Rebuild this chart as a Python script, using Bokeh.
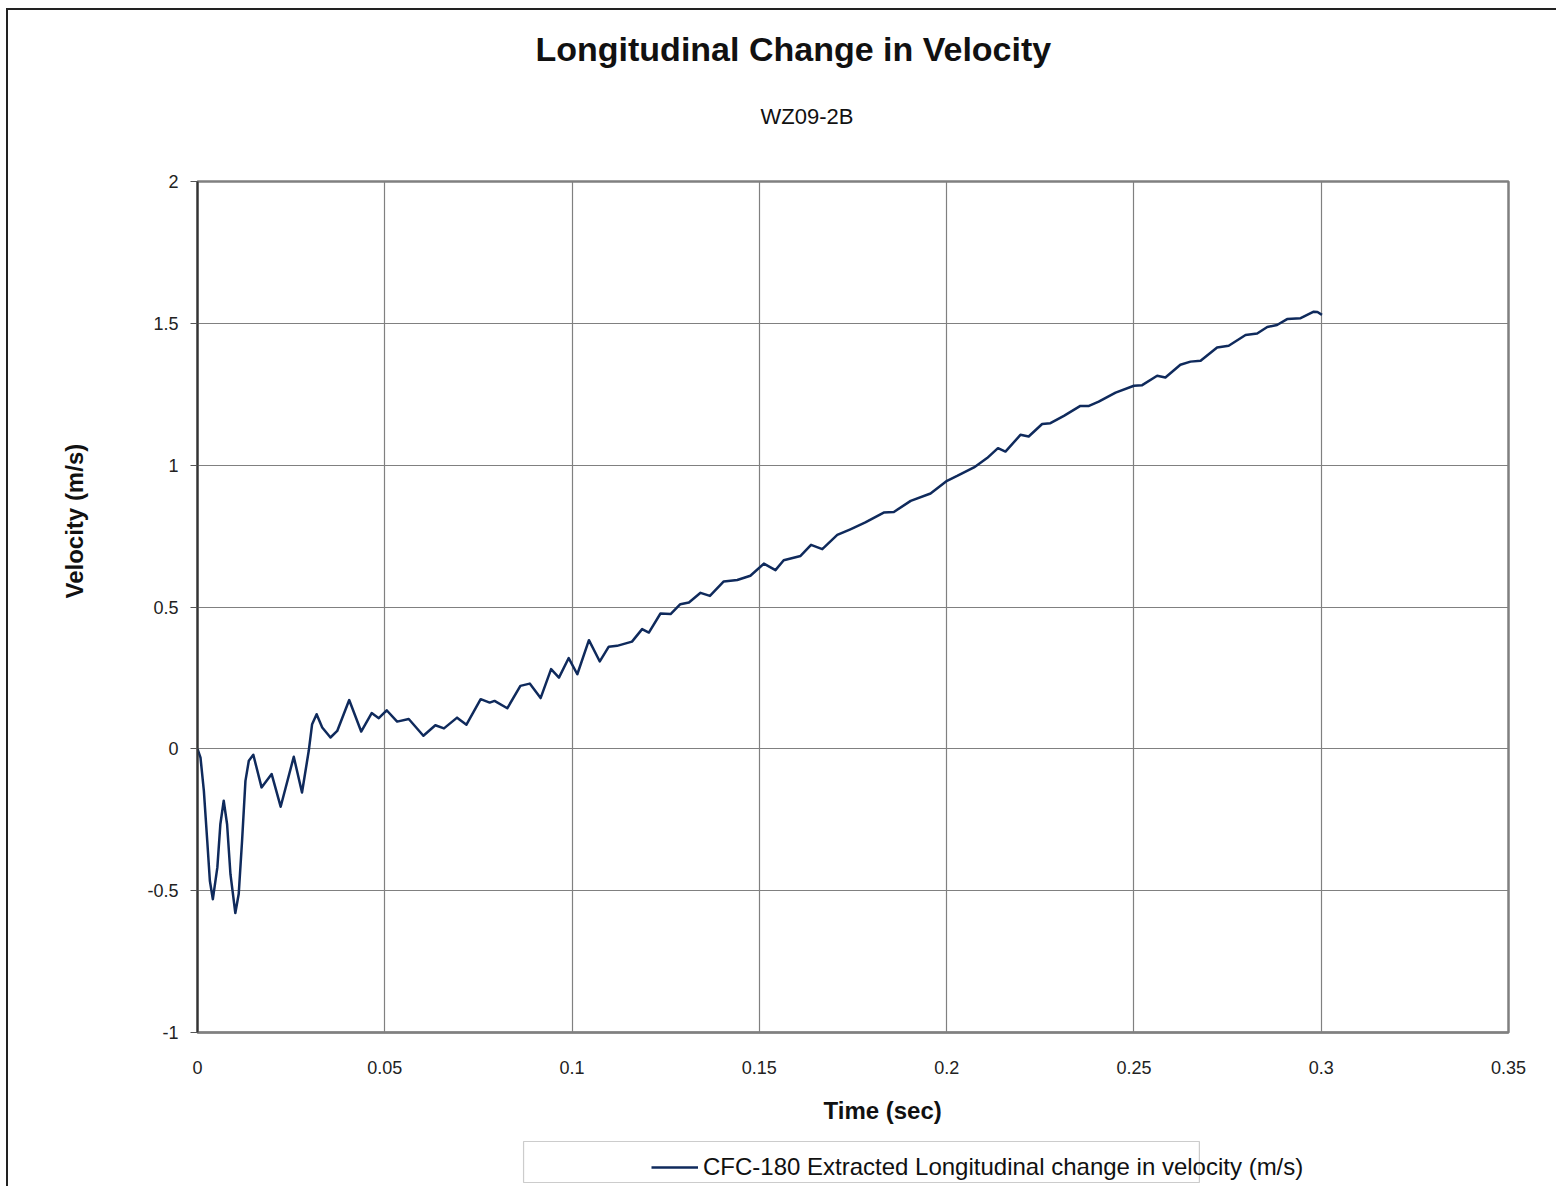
from bokeh.plotting import figure
from bokeh.layouts import column
from bokeh.models import (Range1d, Title, Legend, LegendItem, Label, BoxAnnotation,
                          FixedTicker, CustomJSTickFormatter)
from bokeh.embed import file_html
from bokeh.resources import INLINE

title_text = "Longitudinal Change in Velocity"
subtitle_text = "WZ09-2B"
x_label = "Time (sec)"
y_label = "Velocity (m/s)"
series_name = "CFC-180 Extracted Longitudinal change in velocity (m/s)"

x_ticks = [0, 0.05, 0.1, 0.15, 0.2, 0.25, 0.3, 0.35]
y_ticks = [-1, -0.5, 0, 0.5, 1, 1.5, 2]

time_s = [0.0, 0.0008, 0.0017, 0.0026, 0.0033, 0.0041, 0.0053, 0.0061, 0.0070, 0.0079,
          0.0088, 0.0101, 0.0110, 0.0119, 0.0128, 0.0137, 0.0149, 0.0171, 0.0198,
          0.0222, 0.0257, 0.0279, 0.0297, 0.0306, 0.0318, 0.0333, 0.0355, 0.0373,
          0.0405, 0.0437, 0.0465, 0.0484, 0.0505, 0.0533, 0.0564, 0.0603, 0.0635,
          0.0658, 0.0693, 0.0718, 0.0756, 0.0780, 0.0793, 0.0827, 0.0862, 0.0887,
          0.0916, 0.0944, 0.0965, 0.0991, 0.1014, 0.1045, 0.1074, 0.1098, 0.1120,
          0.1160, 0.1187, 0.1205, 0.1236, 0.1263, 0.1289, 0.1312, 0.1343, 0.1368,
          0.1405, 0.1441, 0.1476, 0.1512, 0.1543, 0.1565, 0.1610, 0.1638, 0.1668,
          0.1708, 0.1743, 0.1783, 0.1832, 0.1859, 0.1904, 0.1957, 0.2001, 0.2028,
          0.2073, 0.2108, 0.2137, 0.2157, 0.2197, 0.2219, 0.2255, 0.2277, 0.2313,
          0.2357, 0.2380, 0.2406, 0.2451, 0.2500, 0.2522, 0.2562, 0.2584, 0.2624,
          0.2651, 0.2678, 0.2722, 0.2753, 0.2798, 0.2829, 0.2856, 0.2882, 0.2909,
          0.2945, 0.2980, 0.2990, 0.3002]
velocity = [0.0, -0.031, -0.148, -0.324, -0.465, -0.530, -0.418, -0.266, -0.183, -0.266,
            -0.442, -0.579, -0.512, -0.324, -0.113, -0.042, -0.021, -0.136, -0.089,
            -0.204, -0.028, -0.154, -0.007, 0.087, 0.122, 0.075, 0.040, 0.063,
            0.172, 0.061, 0.126, 0.108, 0.136, 0.096, 0.105, 0.046, 0.083,
            0.072, 0.110, 0.085, 0.175, 0.163, 0.169, 0.143, 0.222, 0.230,
            0.179, 0.281, 0.251, 0.320, 0.263, 0.383, 0.308, 0.360, 0.363,
            0.378, 0.422, 0.410, 0.477, 0.475, 0.510, 0.516, 0.550, 0.539,
            0.590, 0.595, 0.610, 0.653, 0.630, 0.665, 0.680, 0.719, 0.704,
            0.754, 0.774, 0.798, 0.833, 0.835, 0.874, 0.900, 0.945, 0.962,
            0.992, 1.025, 1.060, 1.048, 1.107, 1.101, 1.145, 1.148, 1.174,
            1.209, 1.209, 1.224, 1.256, 1.280, 1.282, 1.315, 1.309, 1.354,
            1.365, 1.368, 1.415, 1.421, 1.459, 1.464, 1.487, 1.494, 1.515,
            1.518, 1.541, 1.540, 1.530]

FONT = "Liberation Sans"
GRID = "#808080"
LINE = "#0f2a5c"

# ---------------- main chart ----------------
p = figure(width=1548, height=1082, output_backend="svg", toolbar_location=None,
           x_range=Range1d(0, 0.35), y_range=Range1d(-1, 2),
           min_border_left=189, min_border_right=48, min_border_top=171,
           min_border_bottom=60)
p.frame_width = 1311
p.frame_height = 851

p.outline_line_color = GRID
p.outline_line_width = 2.5

r = p.line(time_s, velocity, line_color=LINE, line_width=2.5, line_join="round")

p.xaxis.ticker = FixedTicker(ticks=x_ticks)
p.yaxis.ticker = FixedTicker(ticks=y_ticks)
fmt = CustomJSTickFormatter(code="return String(Math.round(tick*1000)/1000);")
p.xaxis.formatter = fmt
p.yaxis.formatter = fmt
for ax in (p.xaxis[0], p.yaxis[0]):
    ax.major_label_text_font = FONT
    ax.major_label_text_font_size = "18px"
    ax.major_label_text_color = "#222222"
    ax.minor_tick_line_color = None
p.xaxis.axis_line_color = GRID
p.xaxis.axis_line_width = 2
p.xaxis.major_tick_line_color = None
p.xaxis.major_label_standoff = 22
p.yaxis.axis_line_color = "#333333"
p.yaxis.axis_line_width = 2
p.yaxis.major_tick_line_color = "#555555"
p.yaxis.major_tick_out = 7
p.yaxis.major_tick_in = 0
p.yaxis.major_label_standoff = 12

p.xgrid.grid_line_color = GRID
p.ygrid.grid_line_color = GRID
p.xgrid.grid_line_width = 1.2
p.ygrid.grid_line_width = 1.2

def spacer(gap):
    # an invisible white dot whose standoff reserves blank space in a side panel
    return Title(text=".", text_font_size="2px", standoff=gap, text_color="white")

p.add_layout(spacer(33), "above")
p.add_layout(Title(text=subtitle_text, align="left", offset=563,
                   text_font=FONT, text_font_style="normal", text_font_size="22px",
                   text_color="#111111", standoff=34), "above")
p.add_layout(Title(text=title_text, align="left", offset=338,
                   text_font=FONT, text_font_style="bold", text_font_size="34px",
                   text_color="#111111", standoff=34), "above")

p.add_layout(spacer(52), "left")
p.add_layout(Title(text=y_label, align="left", offset=434,
                   text_font=FONT, text_font_style="bold", text_font_size="24px",
                   text_color="#111111", standoff=4), "left")

# ---------------- strip below: x-axis title and legend ----------------
STRIP_W, STRIP_H = 1548, 94
q = figure(width=STRIP_W, height=STRIP_H, output_backend="svg", toolbar_location=None,
           x_range=Range1d(0, STRIP_W), y_range=Range1d(0, STRIP_H),
           x_axis_location=None, y_axis_location=None, min_border=0)
q.outline_line_color = None
q.grid.visible = False

r2 = q.line(time_s, velocity, line_color=LINE, line_width=2.5)
r2.visible = False

q.add_layout(Label(x=809, y=76, text=x_label, text_font=FONT, text_font_style="bold",
                   text_font_size="24px", text_color="#111111",
                   text_align="center", text_baseline="middle"))
q.add_layout(BoxAnnotation(left=385, right=1183, bottom=4, top=45,
                           fill_color="white", fill_alpha=1.0,
                           line_color="#555555", line_width=1.2, level="underlay"))
legend = Legend(items=[LegendItem(label=series_name, renderers=[r2])],
                location=(454, 5), border_line_color=None, background_fill_alpha=0,
                inactive_fill_alpha=0, label_text_font=FONT,
                label_text_font_size="24px", label_text_color="#111111",
                glyph_width=47, label_standoff=5, padding=6, margin=0)
q.add_layout(legend, "center")

layout = column(p, q, spacing=0)
layout.styles = {"border-left": "2px solid #222", "border-top": "2px solid #222",
                 "margin-left": "6px", "margin-top": "8px"}

open("out.html", "w").write(file_html(layout, INLINE))
